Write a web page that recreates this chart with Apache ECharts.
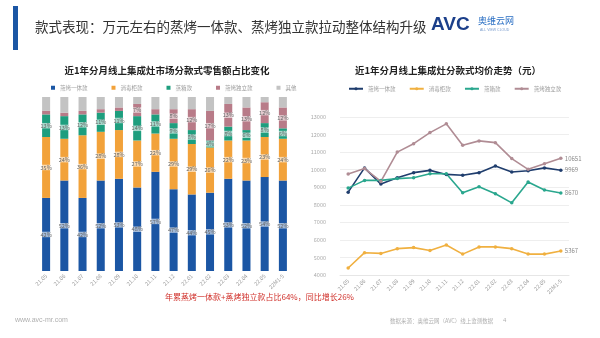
<!DOCTYPE html>
<html>
<head>
<meta charset="utf-8">
<script src="https://cdn.jsdelivr.net/npm/echarts@6/dist/echarts.min.js"></script>
<style>html,body{margin:0;padding:0;background:#fff}#c{width:600px;height:338px}</style>
</head>
<body>
<div id="c"></div>
<script>
const months = ['21.05','21.06','21.07','21.08','21.09','21.10','21.11','21.12','22.01','22.02','22.03','22.04','22.05','22M1-5'];
const typeNames = ['蒸烤一体款','消毒柜款','蒸箱款','蒸烤独立款','其他'];
// share (%)
const shareSteamBake = [42,52,42,52,53,48,57,47,44,45,53,52,54,52];
const shareDisinfect = [35,24,36,28,28,27,22,29,29,26,22,23,23,24];
const shareSteamBox  = [13,13,12,11,11,14,11,9,8,4,8,6,8,6];
const shareSeparate  = [2,2,2,2,2,7,3,8,12,17,13,13,12,12];
const shareOther     = [8,9,8,7,6,4,7,7,7,8,4,6,3,6];
// average price (yuan)
const priceSteamBake = [8720,10100,9180,9540,9830,9960,9730,9680,9830,10210,9870,9940,10100,9969];
const priceDisinfect = [4400,5270,5230,5500,5560,5400,5710,5190,5600,5600,5500,5190,5190,5367];
const priceSteamBox  = [8950,9390,9390,9490,9540,9770,9770,8690,9030,8630,8110,9300,8840,8670];
const priceSeparate  = [9750,10060,9330,11000,11480,12110,12610,11390,11640,11540,10630,10020,10340,10651];

const barColors = ['#1b56a4','#f2a23a','#1e9e7e','#b87b88','#c3c3c3'];
const lineColors = ['#1f3d6d','#f0b040','#2aa78e','#b08c94'];
const shares = [shareSteamBake, shareDisinfect, shareSteamBox, shareSeparate, shareOther];
const prices = [priceSteamBake, priceDisinfect, priceSteamBox, priceSeparate];
const labelMin = [0,0,0,7,101];

const chart = echarts.init(document.getElementById('c'));
const barSeries = shares.map((arr, i) => ({
  type: 'bar', name: typeNames[i], stack: 's', xAxisIndex: 0, yAxisIndex: 0,
  data: arr, barWidth: '44%',
  itemStyle: { color: barColors[i] },
  label: {
    show: true, position: 'inside', fontSize: 5.5, color: '#666',
    backgroundColor: 'rgba(255,255,255,0.6)', padding: [0, 1],
    formatter: p => p.value >= labelMin[i] ? p.value + '%' : ''
  }
}));
const lineSeries = prices.map((arr, i) => ({
  type: 'line', name: typeNames[i] + ' ', xAxisIndex: 1, yAxisIndex: 1,
  data: arr, symbol: 'circle', symbolSize: 3.5, showSymbol: true,
  lineStyle: { width: 1.6, color: lineColors[i] },
  itemStyle: { color: lineColors[i] },
  endLabel: { show: true, fontSize: 6, color: '#888', distance: 4, formatter: p => String(p.value) }
}));

chart.setOption({
  animation: false,
  textStyle: { fontFamily: '"Noto Sans CJK SC", "Noto Sans", sans-serif' },
  title: [
    { text: '款式表现：万元左右的蒸烤一体款、蒸烤独立款拉动整体结构升级', left: 30, top: 15,
      textStyle: { fontSize: 13.5, fontWeight: 'normal', color: '#333' } },
    { text: '近1年分月线上集成灶市场分款式零售额占比变化', left: 162, textAlign: 'center', top: 61,
      textStyle: { fontSize: 9.5, fontWeight: 'bold', color: '#222' } },
    { text: '近1年分月线上集成灶分款式均价走势（元）', left: 443, textAlign: 'center', top: 61,
      textStyle: { fontSize: 9.5, fontWeight: 'bold', color: '#222' } }
  ],
  legend: [
    { data: typeNames, left: 46, top: 80, itemWidth: 4, itemHeight: 4, itemGap: 24, icon: 'rect',
      textStyle: { fontSize: 5.5, color: '#999' } },
    { data: typeNames.slice(0,4).map(n => n + ' '), left: 343, top: 81, width: 250, itemWidth: 14, itemHeight: 4, itemGap: 12,
      textStyle: { fontSize: 5.5, color: '#999' } }
  ],
  grid: [
    { left: 37, top: 97, width: 255, height: 174 },
    { left: 340, top: 117, width: 229, height: 158 }
  ],
  xAxis: [
    { type: 'category', gridIndex: 0, data: months, axisLine: { show: false }, axisTick: { show: false },
      axisLabel: { rotate: 45, fontSize: 5.5, color: '#999', margin: 4, interval: 0 } },
    { type: 'category', gridIndex: 1, data: months, axisLine: { lineStyle: { color: '#e6e6e6' } }, axisTick: { show: false },
      axisLabel: { rotate: 45, fontSize: 5.5, color: '#999', margin: 5, interval: 0 } }
  ],
  yAxis: [
    { type: 'value', gridIndex: 0, min: 0, max: 100, show: false },
    { type: 'value', gridIndex: 1, min: 4000, max: 13000, interval: 1000,
      axisLine: { show: false }, axisTick: { show: false },
      axisLabel: { fontSize: 5.5, color: '#aaa', margin: 14, formatter: v => String(v) },
      splitLine: { lineStyle: { color: '#eeeeee' } } }
  ],
  series: barSeries.concat(lineSeries),
  graphic: [
    { type: 'rect', shape: { x: 13, y: 6, width: 5, height: 44 }, style: { fill: '#1b56a4' } },
    { type: 'text', left: 431, top: 15, style: { text: 'AVC', fontSize: 19, fontWeight: 'bold', fill: '#1b3f8a', fontFamily: 'Liberation Sans' } },
    { type: 'text', left: 478, top: 16, style: { text: '奥维云网', fontSize: 9, fill: '#2a6fc4', fontFamily: '"Noto Sans CJK SC"' } },
    { type: 'text', left: 480, top: 28, style: { text: 'ALL VIEW CLOUD', fontSize: 3.5, fill: '#7a9ccc' } },
    { type: 'text', left: 165, top: 293, style: { text: '年累蒸烤一体款+蒸烤独立款占比64%，同比增长26%', fontSize: 8, fill: '#d0302a', align: 'center', fontFamily: '"Noto Sans CJK SC"' } },
    { type: 'text', left: 15, top: 317, style: { text: 'www.avc-mr.com', fontSize: 7, fill: '#b0b0b0' } },
    { type: 'text', left: 390, top: 318, style: { text: '数据来源：奥维云网（AVC）线上监测数据', fontSize: 5.5, fill: '#b0b0b0', fontFamily: '"Noto Sans CJK SC"' } },
    { type: 'text', left: 503, top: 317, style: { text: '4', fontSize: 6, fill: '#b0b0b0' } }
  ]
});
</script>
</body>
</html>
